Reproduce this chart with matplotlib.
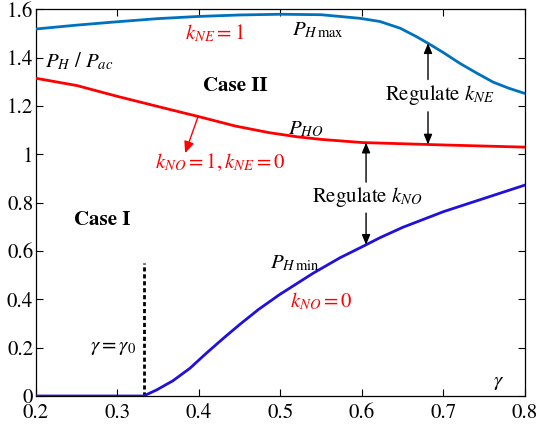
import numpy as np
import matplotlib
matplotlib.use("Agg")
import matplotlib.pyplot as plt
from matplotlib.ticker import FuncFormatter

plt.rcParams["font.family"] = ["STIXGeneral", "DejaVu Serif"]
plt.rcParams["mathtext.fontset"] = "stix"

# P_Hmax curve (k_NE = 1)
gamma_max = [0.2, 0.25, 0.3, 0.35, 0.4, 0.45, 0.5, 0.55, 0.598, 0.622, 0.647,
             0.667, 0.681, 0.7, 0.72, 0.741, 0.761, 0.78, 0.8]
p_hmax = [1.519, 1.535, 1.549, 1.562, 1.571, 1.577, 1.580, 1.578, 1.563, 1.550,
          1.522, 1.487, 1.460, 1.421, 1.377, 1.336, 1.299, 1.274, 1.252]

# P_HO curve (k_NO = 1, k_NE = 0)
gamma_ho = [0.2, 0.25, 0.3, 0.364, 0.4, 0.445, 0.486, 0.52, 0.55, 0.6, 0.7, 0.8]
p_ho = [1.315, 1.285, 1.240, 1.186, 1.156, 1.117, 1.090, 1.073, 1.062, 1.049,
        1.039, 1.030]

# P_Hmin curve (k_NO = 0)
gamma_min = [0.2, 0.3, 0.332, 0.348, 0.368, 0.389, 0.409, 0.43, 0.45, 0.473,
             0.499, 0.54, 0.573, 0.604, 0.622, 0.65, 0.7, 0.75, 0.8]
p_hmin = [0, 0, 0, 0.025, 0.063, 0.115, 0.177, 0.239, 0.296, 0.358, 0.420,
          0.508, 0.572, 0.624, 0.655, 0.698, 0.763, 0.818, 0.873]

gamma0 = 0.332
x_ticks = [0.2, 0.3, 0.4, 0.5, 0.6, 0.7, 0.8]
y_ticks = [0, 0.2, 0.4, 0.6, 0.8, 1.0, 1.2, 1.4, 1.6]

C_MAX = "#0072BD"
C_HO = "#FF0000"
C_MIN = "#2010DD"

fig = plt.figure(figsize=(5.42, 4.28), dpi=100)
ax = fig.add_axes([0.0664, 0.0748, 0.9022, 0.9032])

ax.plot(gamma_max, p_hmax, color=C_MAX, lw=2.0, zorder=3)
ax.plot(gamma_ho, p_ho, color=C_HO, lw=2.0, zorder=3)
ax.plot(gamma_min, p_hmin, color=C_MIN, lw=2.0, zorder=3)

# gamma0 marker
ax.plot([gamma0, gamma0], [0, 0.55], color="black", lw=2.0, ls=(0, (1.5, 1.0)), zorder=2)

arrow_k = dict(arrowstyle="-|>,head_length=0.6,head_width=0.25", color="black", lw=1.0,
               shrinkA=0, shrinkB=0)

# Regulate k_NE arrows
x_ne = 0.681
ax.annotate("", xy=(x_ne, np.interp(x_ne, gamma_max, p_hmax)), xytext=(x_ne, 1.31),
            arrowprops=arrow_k)
ax.annotate("", xy=(x_ne, np.interp(x_ne, gamma_ho, p_ho)), xytext=(x_ne, 1.176),
            arrowprops=arrow_k)
ax.text(0.696, 1.245, r"Regulate $k_{NE}$", fontsize=15, ha="center", va="center")

# Regulate k_NO arrows
x_no = 0.605
ax.annotate("", xy=(x_no, np.interp(x_no, gamma_ho, p_ho)), xytext=(x_no, 0.885),
            arrowprops=arrow_k)
ax.annotate("", xy=(x_no, np.interp(x_no, gamma_min, p_hmin)), xytext=(x_no, 0.757),
            arrowprops=arrow_k)
ax.text(0.607, 0.823, r"Regulate $k_{NO}$", fontsize=15, ha="center", va="center")

# red arrow to k_NO=1,k_NE=0
ax.annotate("", xy=(0.383, 1.005), xytext=(0.399, 1.158),
            arrowprops=dict(arrowstyle="-|>,head_length=0.7,head_width=0.3",
                            color=C_HO, lw=1.0, shrinkA=0, shrinkB=0))

ax.text(0.346, 0.965, r"$k_{NO}=1, k_{NE}=0$", color=C_HO, fontsize=15, va="center")
ax.text(0.383, 1.50, r"$k_{NE}=1$", color=C_HO, fontsize=15, va="center")
ax.text(0.512, 0.39, r"$k_{NO}=0$", color=C_HO, fontsize=15, va="center")

ax.text(0.211, 1.383, r"$P_H\ /\ P_{ac}$", fontsize=15, va="center")
ax.text(0.514, 1.515, r"$P_{H\,\mathrm{max}}$", fontsize=15, va="center")
ax.text(0.509, 1.105, r"$P_{HO}$", fontsize=15, va="center")
ax.text(0.487, 0.55, r"$P_{H\,\mathrm{min}}$", fontsize=15, va="center")
ax.text(0.405, 1.283, "Case II", fontsize=15, fontweight="bold", va="center")
ax.text(0.247, 0.729, "Case I", fontsize=15, fontweight="bold", va="center")
ax.text(0.266, 0.204, r"$\gamma=\gamma_0$", fontsize=15, va="center")
ax.text(0.761, 0.059, r"$\gamma$", fontsize=15, va="center")

ax.set_xlim(0.2, 0.8)
ax.set_ylim(0, 1.6)
ax.set_xticks(x_ticks)
ax.set_yticks(y_ticks)
fmt = FuncFormatter(lambda v, pos: f"{v:g}")
ax.xaxis.set_major_formatter(fmt)
ax.yaxis.set_major_formatter(fmt)
ax.tick_params(direction="in", top=True, right=True, length=5, width=0.8,
               labelsize=15)
ax.tick_params(axis="y", pad=2)
ax.tick_params(axis="x", pad=5.5)
for s in ax.spines.values():
    s.set_linewidth(0.9)

fig.savefig("out.png", dpi=100)
